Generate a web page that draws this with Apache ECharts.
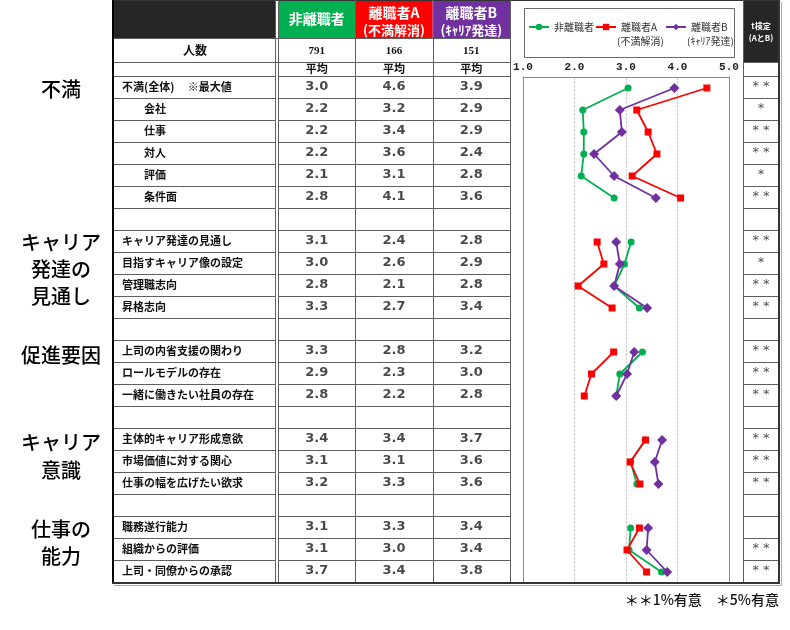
<!DOCTYPE html>
<html><head><meta charset="utf-8">
<script src="https://cdn.jsdelivr.net/npm/echarts/dist/echarts.min.js"></script>
<style>html,body{margin:0;padding:0;background:#fff}#c{width:790px;height:630px}</style>
</head><body><div id="c"></div>
<script>
// ---------- data ----------
const rowLabels = ['不満(全体)　 ※最大値', '　　会社', '　　仕事', '　　対人', '　　評価', '　　条件面', '',
  'キャリア発達の見通し', '目指すキャリア像の設定', '管理職志向', '昇格志向', '',
  '上司の内省支援の関わり', 'ロールモデルの存在', '一緒に働きたい社員の存在', '',
  '主体的キャリア形成意欲', '市場価値に対する関心', '仕事の幅を広げたい欲求', '',
  '職務遂行能力', '組織からの評価', '上司・同僚からの承認'];
const groupNames = ['非離職者', '離職者A', '離職者B'];
const groupSubs = ['', '(不満解消)', '(ｷｬﾘｱ発達)'];
const groupCounts = [791, 166, 151];
const nonLeaver = [3.04, 2.16, 2.18, 2.18, 2.13, 2.77, null, 3.10, 2.97, 2.77, 3.26, null, 3.32, 2.88, 2.81, null, 3.37, 3.09, 3.21, null, 3.09, 3.06, 3.69];
const leaverA   = [4.57, 3.21, 3.43, 3.60, 3.12, 4.06, null, 2.44, 2.57, 2.07, 2.73, null, 2.76, 2.33, 2.19, null, 3.38, 3.08, 3.27, null, 3.26, 3.02, 3.40];
const leaverB   = [3.94, 2.88, 2.92, 2.38, 2.77, 3.58, null, 2.81, 2.88, 2.77, 3.41, null, 3.16, 3.02, 2.81, null, 3.70, 3.56, 3.63, null, 3.43, 3.40, 3.80];
const tTest = ['**', '*', '**', '**', '*', '**', '', '**', '*', '**', '**', '', '**', '**', '**', '', '**', '**', '**', '', '', '**', '**'];
const sectionLabels = [['不満'], ['キャリア', '発達の', '見通し'], ['促進要因'], ['キャリア', '意識'], ['仕事の', '能力']];
const axisMin = 1, axisMax = 5, axisStep = 1;

// ---------- layout / style ----------
const JP = '"Noto Sans CJK JP", sans-serif';
const TOP = 76, H = 506;
const colors = ['#00B050', '#FF0000', '#7030A0'];
const symbols = ['circle', 'rect', 'diamond'];
const symSizes = [7, 7, 10];
const gridLine = '#5f5f5f';
const allSeries = [nonLeaver, leaverA, leaverB];

const tableData = [];
allSeries.forEach((arr, c) => arr.forEach((v, r) => { if (v != null) tableData.push([c, r, v]); }));
const sigData = tTest.map((s, r) => [0.5, r, s]).filter(d => d[2]);

const G = [];
function rect(x, y, w, h, fill, z) { G.push({type: 'rect', silent: true, z: z || 1, shape: {x, y, width: w, height: h}, style: {fill}}); }
function line(x1, y1, x2, y2, stroke, w, z) { G.push({type: 'line', silent: true, z: z || 50, shape: {x1, y1, x2, y2}, style: {stroke, lineWidth: w || 1}}); }
function text(x, y, t, font, fill, align) {
  G.push({type: 'text', silent: true, z: 60, style: {x, y, text: t, font, fill, textAlign: align || 'center', align: align || 'center', textVerticalAlign: 'middle', verticalAlign: 'middle'}});
}
// header cells
rect(112, 0, 163, 38, '#262626');
const colL = 278, colW = 232 / 3;
groupNames.forEach((g, i) => {
  const cx = colL + colW * (i + 0.5);
  rect(colL + colW * i, 0, colW, 38, colors[i]);
  if (groupSubs[i]) {
    text(cx, 13, g, 'bold 14px ' + JP, '#fff');
    text(cx, 30, groupSubs[i], 'bold 13px ' + JP, '#fff');
  } else {
    text(cx, 19, g, 'bold 14px ' + JP, '#fff');
  }
  text(cx, 51, String(groupCounts[i]), 'bold 11px "Liberation Serif", serif', '#111');
  text(cx, 69, '平均', 'bold 11px ' + JP, '#111');
});
text(195, 50, '人数', 'bold 12px ' + JP, '#111');
rect(743, 0, 36, 63, '#262626');
text(761, 26, 't検定', 'bold 8px ' + JP, '#fff');
text(761, 38, '(AとB)', 'bold 8px ' + JP, '#fff');
// table frame lines
line(112, 38.5, 510, 38.5, gridLine);
line(112, 62.5, 510, 62.5, gridLine);
line(743, 62.5, 779, 62.5, gridLine);
line(112, 0.5, 780, 0.5, '#333', 1);
[275, 278, colL + colW, colL + colW * 2, 510, 743].forEach(x => line(Math.round(x) + 0.5, 0, Math.round(x) + 0.5, 583, gridLine));
line(113, 0, 113, 584, '#000', 2);
line(779, 0, 779, 584, '#333', 2);
line(781.5, 2, 781.5, 586, '#aaa', 1);
line(112, 583, 780, 583, '#333', 2);
line(114, 585.5, 782, 585.5, '#aaa', 1);
// legend box and sub labels
G.push({type: 'rect', silent: true, z: 1, shape: {x: 524.5, y: 8.5, width: 210, height: 49}, style: {fill: '#fff', stroke: '#6a6a6a', lineWidth: 1}});
text(617, 41, groupSubs[1], '10px ' + JP, '#333', 'left');
text(687, 41, groupSubs[2], '10px ' + JP, '#333', 'left');
// section labels
const sectionY = [[89], [242, 269, 296], [355], [442, 470], [529, 556]];
sectionLabels.forEach((lines, i) => lines.forEach((t, j) => text(61, sectionY[i][j], t, '500 20px ' + JP, '#000')));
// footnote
text(779, 600, '＊＊1%有意　＊5%有意', '500 14px ' + JP, '#111', 'right');

const catY = (gi, extra) => Object.assign({
  type: 'category', gridIndex: gi, data: rowLabels, inverse: true, boundaryGap: true,
  axisLine: {show: false}, axisTick: {show: false}, axisLabel: {show: false},
  splitLine: {show: false}
}, extra || {});

const option = {
  animation: false,
  backgroundColor: '#fff',
  grid: [
    {left: 112, top: TOP, width: 163, height: H, containLabel: false, outerBoundsMode: 'none'},
    {left: 278, top: TOP, width: 232, height: H, containLabel: false, outerBoundsMode: 'none'},
    {left: 523, top: TOP + 1, width: 206, height: H, containLabel: false, outerBoundsMode: 'none'},
    {left: 743, top: TOP, width: 36, height: H, containLabel: false, outerBoundsMode: 'none'}
  ],
  xAxis: [
    {type: 'value', gridIndex: 0, show: false},
    {type: 'category', gridIndex: 1, data: groupNames, show: false},
    {type: 'value', gridIndex: 2, position: 'top', min: axisMin, max: axisMax, interval: axisStep,
      axisLine: {show: true, lineStyle: {color: '#8c8c8c', width: 1}},
      axisTick: {show: false},
      axisLabel: {margin: 4, formatter: v => v.toFixed(1), fontFamily: '"Liberation Mono", monospace', fontWeight: 'bold', fontSize: 11, color: '#222'},
      splitLine: {show: true, lineStyle: {color: '#d2d2d2', width: 1.2, type: [3, 1]}}},
    {type: 'value', gridIndex: 3, min: 0, max: 1, show: false}
  ],
  yAxis: [
    catY(0, {axisLabel: {show: true, inside: true, margin: 10, interval: 0, fontFamily: JP, fontWeight: 'bold', fontSize: 11, color: '#111'},
      splitLine: {show: true, interval: 0, lineStyle: {color: gridLine, width: 1}}}),
    catY(1, {splitLine: {show: true, interval: 0, lineStyle: {color: gridLine, width: 1}}}),
    catY(2, {position: 'left', axisLine: {show: true, lineStyle: {color: '#8c8c8c', width: 1}}}),
    catY(2, {position: 'right', axisLine: {show: true, lineStyle: {color: '#8c8c8c', width: 1}}}),
    catY(3, {splitLine: {show: true, interval: 0, lineStyle: {color: gridLine, width: 1}}})
  ],
  legend: groupNames.map((g, i) => ({
    data: [g], left: [528, 595, 665][i], top: 22, padding: 0, itemWidth: 20, itemHeight: 8,
    selectedMode: false, textStyle: {fontSize: 10, color: '#333', fontFamily: JP}
  })),
  graphic: {elements: G},
  series: [
    {type: 'scatter', xAxisIndex: 1, yAxisIndex: 1, data: tableData, symbolSize: 0, silent: true,
      label: {show: true, position: 'inside', formatter: p => p.value[2].toFixed(1),
        fontFamily: '"DejaVu Sans", Verdana, sans-serif', fontWeight: 'bold', fontSize: 13, color: '#1a1a1a'}},
    {type: 'scatter', xAxisIndex: 3, yAxisIndex: 4, data: sigData, symbolSize: 0, silent: true,
      label: {show: true, position: 'inside', formatter: p => p.value[2].split('').join(' '),
        fontFamily: '"DejaVu Sans", sans-serif', fontSize: 13, color: '#222'}}
  ].concat(allSeries.map((arr, i) => ({
    type: 'line', name: groupNames[i], xAxisIndex: 2, yAxisIndex: 2,
    data: arr.map((v, r) => [v == null ? '-' : v, r]),
    connectNulls: false, symbol: symbols[i], symbolSize: symSizes[i], z: 10 + i,
    lineStyle: {color: colors[i], width: 1.8}, itemStyle: {color: colors[i]}, color: colors[i]
  })))
};
const chart = echarts.init(document.getElementById('c'));
chart.setOption(option);
</script></body></html>
